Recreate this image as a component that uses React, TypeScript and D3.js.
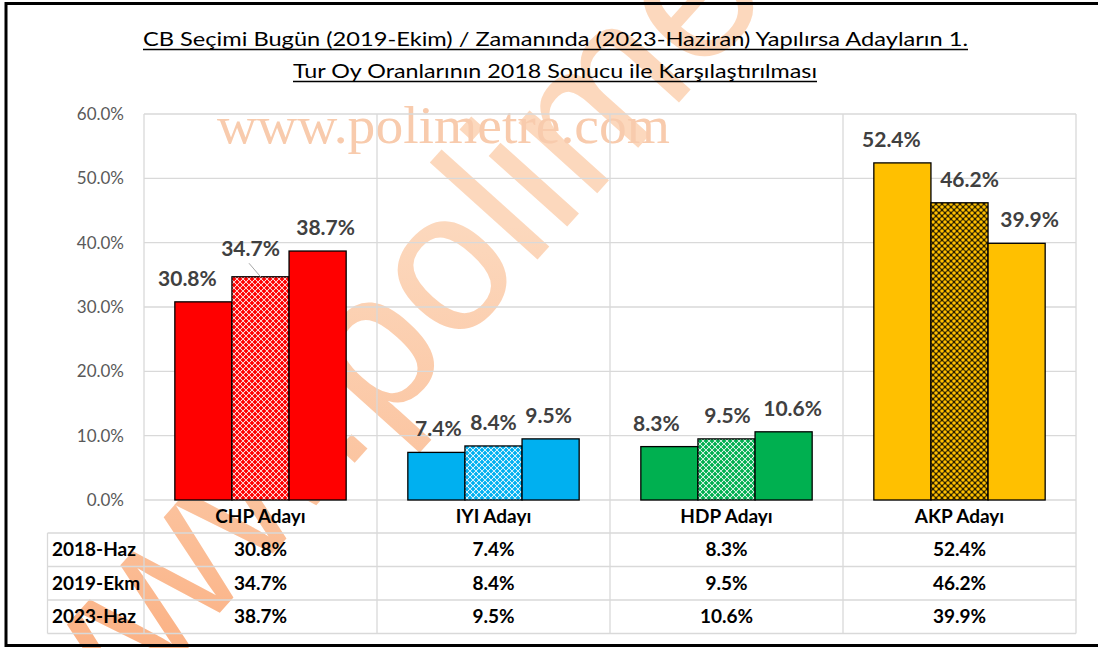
import React, { useRef, useEffect } from 'react';
import * as d3 from 'd3';

const categories = ['CHP Adayı', 'IYI Adayı', 'HDP Adayı', 'AKP Adayı'];
const seriesNames = ['2018-Haz', '2019-Ekm', '2023-Haz'];
const vals2018 = [30.8, 7.4, 8.3, 52.4];
const vals2019 = [34.7, 8.4, 9.5, 46.2];
const vals2023 = [38.7, 9.5, 10.6, 39.9];
const yTicks = [0, 10, 20, 30, 40, 50, 60];
const partyColors = ['#FF0000', '#00B0F0', '#00B050', '#FFC000'];
const titleLines = [
    'CB Seçimi Bugün (2019-Ekim) / Zamanında (2023-Haziran) Yapılırsa Adayların 1.',
    'Tur Oy Oranlarının 2018 Sonucu ile Karşılaştırılması'
];

// labels were dragged by hand in the original sheet, so nudge them sideways a bit
const labelNudgeX = [[-16, -10, 8], [2, 0, -2], [-13, 1, 9], [-11, 10, 13]];

const W = 1098;
const H = 648;
const FONT = 'Lato, "Open Sans", sans-serif';

const App: React.FC = () => {
    const svgRef = useRef<SVGSVGElement | null>(null);

    useEffect(() => {
        document.body.style.margin = '0';
        const svg = d3.select(svgRef.current);
        svg.selectAll('*').remove();

        const series = [vals2018, vals2019, vals2023];
        const margin = { top: 114, right: 22, bottom: 148, left: 144 };
        const plotRight = W - margin.right;
        const plotBottom = H - margin.bottom;

        const x0 = d3.scaleBand<string>().domain(categories).range([margin.left, plotRight]);
        const x1 = d3.scaleBand<string>().domain(seriesNames).range([0, x0.bandwidth()])
            .paddingInner(0).paddingOuter(0.54);
        const y = d3.scaleLinear().domain([0, 60]).range([plotBottom, margin.top]);
        const fmt = (v: number) => d3.format('.1f')(v) + '%';

        const defs = svg.append('defs');
        const grad = defs.append('linearGradient').attr('id', 'wmGrad')
            .attr('gradientUnits', 'userSpaceOnUse')
            .attr('x1', 40).attr('y1', 660).attr('x2', 760).attr('y2', 0);
        [['0', '#ff5a1e'], ['0.35', '#fb9a62'], ['0.7', '#fbc09a'], ['1', '#fcd8bd']].forEach(([o, c]) => {
            grad.append('stop').attr('offset', o).attr('stop-color', c);
        });

        // patterned fill for the 2019 series
        partyColors.forEach((c, i) => {
            const p = defs.append('pattern').attr('id', `pat${i}`)
                .attr('patternUnits', 'userSpaceOnUse')
                .attr('width', 6).attr('height', 6);
            const corners = [[0, 0], [6, 0], [0, 6], [6, 6], [3, 3]];
            if (i === 3) {
                p.append('rect').attr('width', 6).attr('height', 6).attr('fill', '#2a2000');
                corners.forEach(([cx, cy]) => {
                    p.append('circle').attr('cx', cx).attr('cy', cy).attr('r', 1.8).attr('fill', c);
                });
            } else {
                p.append('rect').attr('width', 6).attr('height', 6).attr('fill', c);
                corners.forEach(([cx, cy]) => {
                    p.append('circle').attr('cx', cx).attr('cy', cy).attr('r', 1.1).attr('fill', '#fff');
                });
                [[1.5, 1.5], [4.5, 1.5], [1.5, 4.5], [4.5, 4.5]].forEach(([cx, cy]) => {
                    p.append('circle').attr('cx', cx).attr('cy', cy).attr('r', 0.7)
                        .attr('fill', '#fff').attr('fill-opacity', 0.9);
                });
            }
        });

        svg.append('rect').attr('width', W).attr('height', H).attr('fill', '#fff');

        // watermarks
        svg.append('text')
            .attr('transform', 'translate(60,790) rotate(-48)')
            .attr('font-family', '"Liberation Sans", Arial, sans-serif')
            .attr('font-size', 200)
            .attr('fill', 'url(#wmGrad)')
            .text('www.polimetre');

        svg.append('text')
            .attr('x', 217).attr('y', 143)
            .attr('textLength', 453).attr('lengthAdjust', 'spacingAndGlyphs')
            .attr('font-family', '"Liberation Serif", "Times New Roman", serif')
            .attr('font-size', 53)
            .attr('fill', '#f8cbad')
            .text('www.polimetre.com');

        // title
        const titlePos = [{ x: 143, len: 825, base: 46 }, { x: 293, len: 524, base: 78 }];
        titleLines.forEach((t, i) => {
            const p = titlePos[i];
            svg.append('text')
                .attr('x', p.x).attr('y', p.base)
                .attr('textLength', p.len).attr('lengthAdjust', 'spacingAndGlyphs')
                .attr('font-family', FONT).attr('font-size', 20).attr('fill', '#000')
                .text(t);
            svg.append('line')
                .attr('x1', p.x).attr('x2', p.x + p.len)
                .attr('y1', p.base + 3.5).attr('y2', p.base + 3.5)
                .attr('stroke', '#000').attr('stroke-width', 1.3);
        });

        const gridColor = '#d9d9d9';

        // horizontal gridlines
        svg.append('g').selectAll('line').data(yTicks).enter().append('line')
            .attr('x1', margin.left).attr('x2', plotRight)
            .attr('y1', d => y(d)).attr('y2', d => y(d))
            .attr('stroke', gridColor).attr('stroke-width', 1.3);

        // table geometry
        const rowH = 33.5;
        const headerBottom = plotBottom + 33;
        const tableBottom = headerBottom + rowH * seriesNames.length;
        const tableLeft = 47.5;

        // vertical lines through plot + table
        const vx = categories.map(c => x0(c) as number).concat([plotRight]);
        svg.append('g').selectAll('line').data(vx).enter().append('line')
            .attr('x1', d => d).attr('x2', d => d)
            .attr('y1', margin.top).attr('y2', tableBottom)
            .attr('stroke', gridColor).attr('stroke-width', 1.3);

        svg.append('line')
            .attr('x1', tableLeft).attr('x2', tableLeft)
            .attr('y1', headerBottom).attr('y2', tableBottom)
            .attr('stroke', gridColor).attr('stroke-width', 1.3);

        d3.range(seriesNames.length + 1).forEach(r => {
            const yy = headerBottom + r * rowH;
            svg.append('line')
                .attr('x1', tableLeft).attr('x2', plotRight)
                .attr('y1', yy).attr('y2', yy)
                .attr('stroke', gridColor).attr('stroke-width', 1.3);
        });

        // y tick labels
        svg.append('g').selectAll('text').data(yTicks).enter().append('text')
            .attr('x', 124).attr('y', d => y(d))
            .attr('dy', '0.35em')
            .attr('text-anchor', 'end')
            .attr('font-family', FONT).attr('font-size', 17).attr('fill', '#595959')
            .text(d => fmt(d));

        // bars
        categories.forEach((cat, i) => {
            const g = svg.append('g').attr('transform', `translate(${x0(cat)},0)`);
            seriesNames.forEach((s, j) => {
                const v = series[j][i];
                g.append('rect')
                    .attr('x', x1(s) as number)
                    .attr('y', y(v))
                    .attr('width', x1.bandwidth())
                    .attr('height', plotBottom - y(v))
                    .attr('fill', j === 1 ? `url(#pat${i})` : partyColors[i])
                    .attr('stroke', '#000').attr('stroke-width', 1.3);
            });
        });

        // data labels
        categories.forEach((cat, i) => {
            seriesNames.forEach((s, j) => {
                const v = series[j][i];
                const cx = (x0(cat) as number) + (x1(s) as number) + x1.bandwidth() / 2;
                const extraUp = i === 0 && j === 1 ? 4.5 : 0;
                svg.append('text')
                    .attr('x', cx + labelNudgeX[i][j])
                    .attr('y', y(v) - 16 - extraUp)
                    .attr('text-anchor', 'middle')
                    .attr('font-family', FONT).attr('font-size', 21).attr('font-weight', 'bold')
                    .attr('fill', '#404040')
                    .text(fmt(v));
                if (extraUp) {
                    svg.append('line')
                        .attr('x1', cx - 11.5).attr('y1', y(v) - 13.5)
                        .attr('x2', cx + 0.5).attr('y2', y(v) + 0.5)
                        .attr('stroke', '#a6a6a6').attr('stroke-width', 1);
                }
            });
        });

        // table text
        const tableFont = 19;
        categories.forEach(cat => {
            const cx = (x0(cat) as number) + x0.bandwidth() / 2;
            svg.append('text')
                .attr('x', cx).attr('y', plotBottom + 16.5).attr('dy', '0.35em')
                .attr('text-anchor', 'middle')
                .attr('font-family', FONT).attr('font-size', tableFont).attr('font-weight', 'bold')
                .attr('fill', '#000')
                .text(cat);
        });
        seriesNames.forEach((s, j) => {
            const cy = headerBottom + j * rowH + rowH / 2;
            svg.append('text')
                .attr('x', 52).attr('y', cy).attr('dy', '0.35em')
                .attr('font-family', FONT).attr('font-size', tableFont).attr('font-weight', 'bold')
                .attr('fill', '#000')
                .text(s);
            categories.forEach((cat, i) => {
                svg.append('text')
                    .attr('x', (x0(cat) as number) + x0.bandwidth() / 2).attr('y', cy).attr('dy', '0.35em')
                    .attr('text-anchor', 'middle')
                    .attr('font-family', FONT).attr('font-size', tableFont).attr('font-weight', 'bold')
                    .attr('fill', '#000')
                    .text(fmt(series[j][i]));
            });
        });

        // outer frame (right side is cut off in the source image)
        svg.append('rect')
            .attr('x', 6).attr('y', 3.5)
            .attr('width', W + 10).attr('height', 642)
            .attr('fill', 'none').attr('stroke', '#000').attr('stroke-width', 3);
    }, []);

    return (
        <svg
            ref={svgRef}
            width={W}
            height={H}
            style={{ position: 'absolute', left: 0, top: 0, display: 'block' }}
        />
    );
};

export default App;
